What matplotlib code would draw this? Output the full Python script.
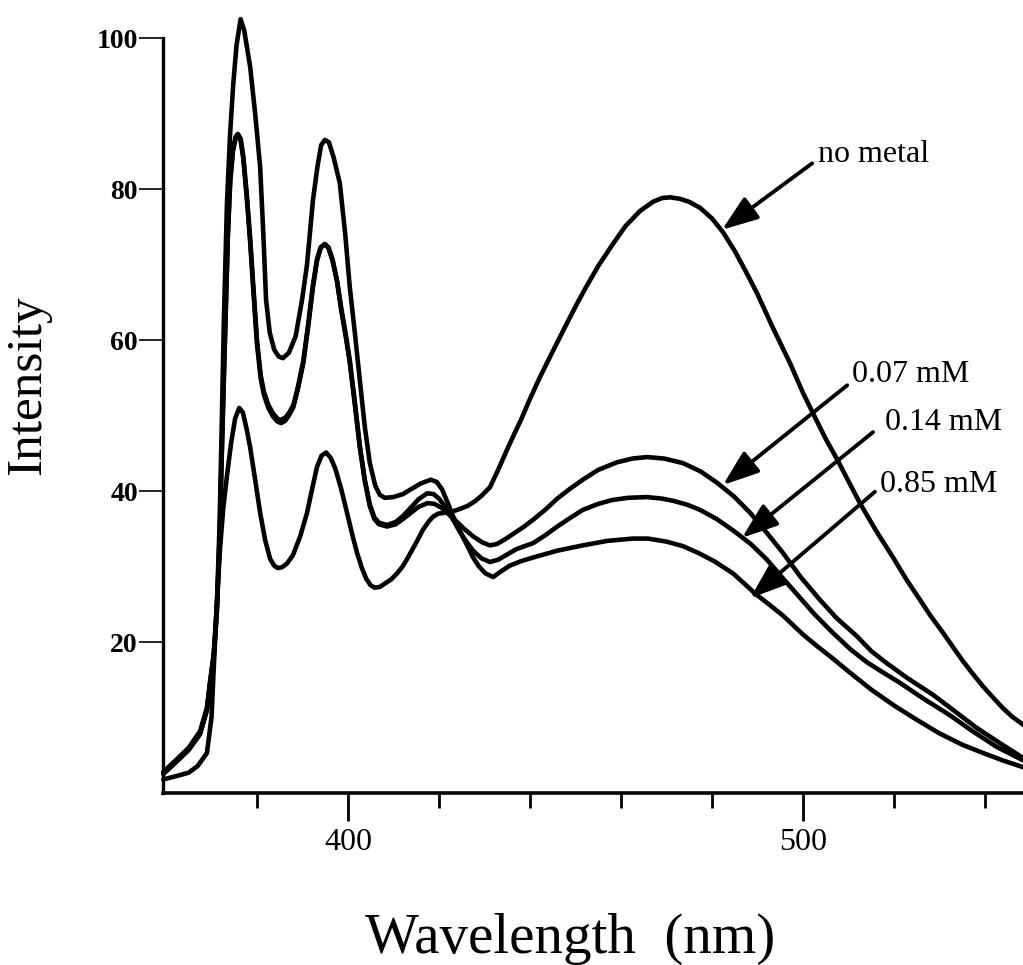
import matplotlib
matplotlib.use('Agg')
import matplotlib.pyplot as plt
from matplotlib.ticker import FixedLocator, NullFormatter

# emission spectra (wavelength in nm, intensity in arbitrary units)
wl_none = [359.4, 362, 365, 367, 369, 370, 370.5, 371.2, 371.9, 372.6, 373.4, 374.3,
           375.2, 376.1, 376.9, 377.7, 378.5, 379.6, 380.7, 381.8, 382.9, 383.8,
           384.6, 385.5, 386.6, 387.9, 389.5, 391, 392.2, 393.2, 394.2, 395.2, 396.2,
           397.2, 398.5, 399.8, 401, 402, 403, 404, 405, 405.9, 407, 408, 409.5,
           410.8, 412, 413, 414.2, 415.2, 416.5, 417.8, 418.7, 419.8, 421, 422.4,
           424, 426.2, 427.8, 429.4, 431.2, 433, 434.9, 436.5, 438, 440, 442.2, 445,
           448.1, 450.5, 452.5, 455, 458.2, 461, 464.2, 467, 469, 470.8, 473, 475,
           477.4, 480, 482.4, 485, 487.5, 489.9, 493.4, 497.1, 500, 502.2, 505,
           507.5, 510, 512.5, 516, 519.8, 522.7, 525.7, 528, 530.8, 533, 535,
           537.3, 539.6, 542, 544, 546, 548.5]
int_none = [1.8, 2.2, 2.7, 3.6, 5.3, 10, 16.5, 25.5, 32.5, 37.8, 42, 46.3,
            49.6, 51, 50.4, 48.3, 45.8, 41.5, 37.1, 33.5, 31, 30.1,
            29.8, 29.9, 30.4, 31.5, 34, 37.1, 40.5, 43.2, 44.7, 45.1, 44.4,
            43, 40.3, 37.1, 34.1, 31.8, 29.9, 28.4, 27.5, 27.2, 27.3, 27.7, 28.3,
            29.1, 30, 31, 32.3, 33.4, 34.9, 36, 36.6, 37, 37.1, 37.2,
            37.5, 38, 38.6, 39.4, 40.5, 42.8, 45.4, 47.5, 49.4, 52.2, 55.1, 58.5,
            62.2, 65, 67.2, 69.8, 72.7, 75.1, 77.1, 78.3, 78.8, 78.9, 78.7, 78.3,
            77.5, 76.1, 74.3, 71.8, 69, 66.2, 61.6, 57, 53, 50.3, 46.9,
            44.2, 41.3, 38.4, 34.8, 31.2, 28.3, 25.6, 23.5, 21.2, 19.3, 17.6,
            15.8, 14.1, 12.5, 11.2, 10.1, 9.0]

wl_007 = [359.4, 362.6, 365, 367.5, 369, 369.7, 370.5, 371.2, 371.8, 372.3, 372.8,
          373.2, 373.6, 374.1, 374.7, 375.3, 375.8, 376.4, 377, 377.8, 378.5, 379.1,
          380, 380.8, 381.5, 382.5, 383.5, 384.5, 385.3, 386.2, 387, 388, 389,
          390.2, 391.3, 392.3, 393.2, 394, 394.9, 395.7, 396.6, 397.6, 398.5,
          399.5, 400.4, 401.5, 402.6, 403.7, 404.8, 405.8, 406.8, 408.6, 410.5,
          412.1, 413.8, 415.5, 417.5, 419, 420.5, 422, 423.8, 425.5, 427.5, 429.5,
          431.2, 432.8, 434.5, 436.5, 438.5, 440.7, 443.5, 446, 448.8, 451.6, 455,
          459.1, 462.5, 465.7, 469.5, 473.6, 477.5, 481.1, 484.8, 488.4, 492,
          495.6, 499.5, 503.7, 507.5, 511.8, 515, 518.4, 523, 528.6, 533, 538,
          543.3, 548.5]
int_007 = [2.8, 4.6, 6, 8.2, 11.3, 14.8, 18.3, 24.5, 34, 46, 57,
           65.3, 74, 81, 85, 86.7, 87.1, 86.5, 84, 78.5, 73, 67.5,
           59.5, 55, 52.8, 51, 49.9, 49.2, 49, 49.3, 50, 51.1, 53.5,
           57, 62, 67, 70.5, 72.2, 72.7, 72.2, 70.5, 67.7, 64,
           60.5, 57, 51.5, 45.8, 41.3, 38, 36.3, 35.6, 35.3, 35.6,
           36.3, 37.1, 37.9, 38.4, 38.3, 37.8, 37, 36, 35, 34, 33.2,
           32.8, 33, 33.6, 34.4, 35.2, 36.2, 37.6, 39, 40.3, 41.5, 42.8,
           43.8, 44.3, 44.5, 44.3, 43.7, 42.6, 41.1, 39.3, 37.1, 34.5,
           31.8, 28.6, 25.6, 23.1, 20.8, 18.8, 17.2, 15.2, 13, 11, 8.7,
           6.6, 4.6]

wl_014 = [359.4, 362.6, 365, 367.5, 369, 369.7, 370.5, 371.2, 371.8, 372.3, 372.8,
          373.2, 373.6, 374.1, 374.7, 375.3, 375.8, 376.4, 377, 377.8, 378.5, 379.1,
          380, 380.8, 381.5, 382.5, 383.5, 384.5, 385.1, 386.2, 387, 388, 389,
          390.2, 391.3, 392.3, 393.2, 394, 394.9, 395.7, 396.6, 397.6, 398.5,
          399.5, 400.4, 401.5, 402.6, 403.7, 404.8, 405.8, 406.8, 408.6, 410.5,
          412.1, 413.8, 415.5, 417.4, 418.8, 420, 421.5, 423, 424.5, 426, 427.5,
          429.3, 431.2, 433, 435, 437, 438.8, 440.7, 443.5, 446, 449, 451.6, 455,
          458, 461.5, 465.7, 469, 471.5, 474.5, 477.4, 481, 484.6, 488.5, 492.1,
          495.5, 499.3, 502.5, 506.6, 510.5, 514.1, 517.5, 521.3, 524, 527, 532.3,
          537, 542.6, 548.5]
int_014 = [2.5, 4.3, 5.7, 7.8, 11, 14.5, 18, 24, 33.5, 45.5, 56.5,
           65, 73.8, 80.8, 85.2, 86.9, 87.3, 86.7, 84.3, 79, 73.5, 68,
           60, 55.4, 53.2, 51.4, 50.3, 49.6, 49.4, 49.7, 50.3, 51.4, 53.8,
           57.3, 62.3, 67.3, 70.7, 72.3, 72.7, 72.3, 70.7, 67.9, 64.3,
           60.8, 57.3, 51.8, 46, 41.5, 38.2, 36.5, 35.8, 35.5, 35.9,
           36.7, 37.8, 38.9, 39.7, 39.6, 39, 37.8, 36.3, 34.7, 33.3, 32.1,
           31.1, 30.6, 30.9, 31.6, 32.3, 32.7, 33.1, 34.2, 35.3, 36.5, 37.5, 38.3,
           38.8, 39.1, 39.2, 39, 38.7, 38.2, 37.5, 36.3, 34.8, 33, 30.9,
           28.5, 25.9, 23.7, 21.2, 19, 17.3, 16, 14.6, 13.5, 12.3, 10.3,
           8.3, 6.1, 4.3]

wl_085 = [359.4, 362.6, 365, 367.5, 369, 369.7, 370.5, 371.2, 371.8, 372.3, 372.7,
          373.4, 374.1, 374.8, 375.5, 376.4, 377.2, 378.5, 379.6, 380.7, 381.4,
          382, 382.8, 383.8, 384.8, 385.7, 387, 388.5, 389.9, 391, 392.3, 393.3,
          394.1, 394.9, 395.8, 396.8, 398.2, 399.4, 400.4, 401.5, 402.6, 403.7,
          404.8, 406, 407, 408.1, 410, 412.1, 414, 416, 418.2, 419.5, 420.7, 421.8,
          423, 424.5, 426.2, 427.5, 428.8, 430.2, 431.9, 433.5, 435.5, 438, 440.7,
          446, 451.6, 457, 462.6, 466, 470, 473.6, 477, 480.5, 484.6, 487, 489.5,
          492.5, 495.6, 500, 503, 506.6, 510, 515, 520, 525, 530, 535, 539.6,
          544, 548.5]
int_085 = [2.6, 4.4, 5.8, 7.9, 11, 14.6, 18.5, 25, 36, 50, 62,
           78, 87.4, 94, 99, 102.5, 101, 96.2, 90, 82.9, 74,
           65.3, 61, 58.7, 57.8, 57.6, 58.3, 60.5, 65.3, 70, 78.5, 83,
           85.8, 86.5, 86.2, 84.3, 80.8, 74, 67, 61, 54.7, 48.5,
           43.7, 40.7, 39.5, 39.1, 39.2, 39.6, 40.3, 41, 41.5, 41.2, 40.2, 38.6,
           36.8, 34.8, 32.8, 31.2, 30, 29.1, 28.6, 29.3, 30.1, 30.7, 31.2,
           32.1, 32.8, 33.4, 33.7, 33.7, 33.3, 32.7, 31.8, 30.7, 29.1, 27.8, 26.4,
           25, 23.5, 21, 19.5, 17.8, 16.1, 13.7, 11.6, 9.7, 7.9, 6.4, 5.3,
           4.3, 3.4]

# label text, arrow tail (x, y), arrow tip (x, y), text anchor (x, y)
labels = ['no metal', '0.07 mM', '0.14 mM', '0.85 mM']
arrow_tail = [(502.0, 83.4), (509.7, 54.0), (515.4, 47.8), (515.8, 39.9)]
arrow_tip = [(482.2, 74.6), (482.4, 40.8), (486.6, 33.8), (488.4, 25.8)]
label_pos = [(503.3, 83.6), (510.8, 54.4), (518.0, 48.1), (516.9, 39.9)]

SERIF = 'Liberation Serif'

fig = plt.figure(figsize=(10.23, 9.65), dpi=100)
ax = fig.add_axes([0.1593, 0.1782, 0.8407, 0.8137])

for wl, inten in [(wl_none, int_none), (wl_007, int_007),
                  (wl_014, int_014), (wl_085, int_085)]:
    ax.plot(wl, inten, color='black', lw=3.3, solid_joinstyle='round',
            solid_capstyle='round', clip_on=False)

ax.set_xlim(359.34, 548.35)
ax.set_ylim(0, 104)

for side in ('top', 'right'):
    ax.spines[side].set_visible(False)
ax.spines['left'].set_bounds(0, 100)
ax.spines['left'].set_linewidth(2.4)
ax.spines['bottom'].set_linewidth(2.6)

ax.xaxis.set_major_locator(FixedLocator([400, 500]))
ax.xaxis.set_minor_locator(FixedLocator([380, 420, 440, 460, 480, 520, 540]))
ax.xaxis.set_minor_formatter(NullFormatter())
ax.tick_params(axis='x', which='major', direction='out', length=20, width=2, pad=5)
ax.tick_params(axis='x', which='minor', direction='out', length=11, width=2)
ax.set_xticklabels(['400', '500'], fontfamily=SERIF, fontsize=23)

ax.yaxis.set_major_locator(FixedLocator([20, 40, 60, 80, 100]))
ax.tick_params(axis='y', direction='out', length=17, width=1.2, pad=1)
ax.set_yticklabels(['20', '40', '60', '80', '100'], fontfamily=SERIF,
                   fontweight='bold', fontsize=20)

for text, tail, tip, pos in zip(labels, arrow_tail, arrow_tip, label_pos):
    ax.annotate('', xy=tip, xytext=tail,
                arrowprops=dict(arrowstyle='-|>,head_length=22,head_width=8',
                                mutation_scale=1, lw=2.8, color='black',
                                shrinkA=0, shrinkB=0))
    ax.text(pos[0], pos[1], text, fontfamily=SERIF, fontsize=23,
            ha='left', va='baseline')

fig.text(0.557, 0.0124, 'Wavelength  (nm)', fontfamily=SERIF, fontsize=41,
         ha='center', va='baseline')
fig.text(0.0274, 0.601, 'Intensity', fontfamily=SERIF, fontsize=37,
         rotation=90, ha='center', va='center')

fig.savefig('out.png', dpi=100)
